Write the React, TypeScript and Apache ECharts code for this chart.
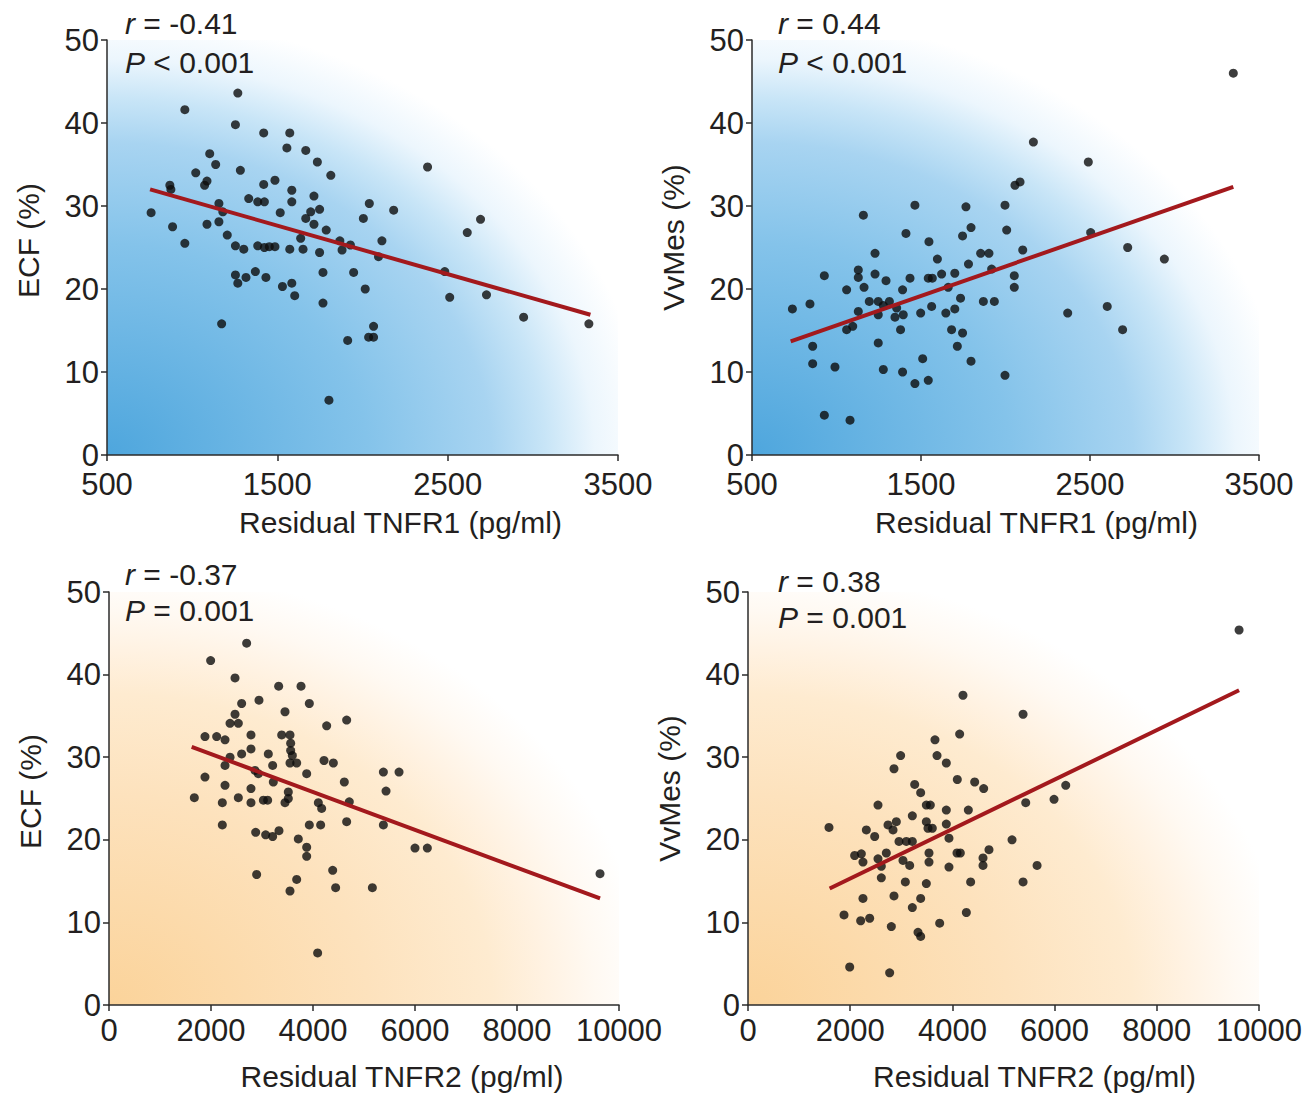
import React, { useEffect, useRef } from "react";
import * as echarts from "echarts";

// ---------- data ----------
const ecfVsTnfr1: [number, number][] = [
  [759,29.2],[957,41.6],[1268,43.6],[1254,39.8],[1420,38.8],[1573,38.8],[1556,37.0],[1667,36.7],[1735,35.3],[1103,36.3],
  [1138,35.0],[1283,34.3],[1021,34.0],[869,32.5],[875,32.0],[1073,32.5],[1087,33.0],[1420,32.6],[1486,33.1],[1585,31.9],
  [1585,30.5],[1332,30.9],[1385,30.5],[1424,30.5],[1715,31.2],[1814,33.7],[1157,30.3],[1180,29.3],[1517,29.2],[1696,29.3],
  [1748,29.6],[1667,28.5],[1715,27.8],[1787,27.1],[1087,27.8],[1157,28.1],[885,27.5],[957,25.5],[1206,26.5],[1254,25.2],
  [1303,24.8],[1385,25.2],[1424,25.0],[1453,25.1],[1486,25.1],[1573,24.8],[1637,26.1],[1651,24.8],[1748,24.4],[1867,25.8],
  [1880,24.7],[1929,25.3],[1254,21.7],[1268,20.7],[1316,21.4],[1371,22.1],[1433,21.4],[1530,20.3],[1585,20.7],[1602,19.2],
  [1768,22.0],[1948,22.0],[2016,20.0],[1768,18.3],[1173,15.8],[1913,13.8],[1803,6.6],[2005,28.5],[2040,30.3],[2183,29.5],
  [2382,34.7],[2114,25.8],[2094,23.9],[2615,26.8],[2693,28.4],[2483,22.1],[2512,19.0],[2728,19.3],[2065,15.5],[2036,14.2],
  [2065,14.2],[2946,16.6],[3329,15.8],
];
const vvmesVsTnfr1: [number, number][] = [
  [739,17.6],[843,18.2],[928,21.6],[859,13.1],[859,11.0],[991,10.6],[928,4.8],[1080,4.2],[1060,19.9],[1060,15.1],
  [1096,15.5],[1129,22.3],[1129,21.4],[1159,28.9],[1163,20.2],[1129,17.3],[1228,24.3],[1228,21.8],[1194,18.5],[1247,18.5],
  [1247,16.9],[1293,21.0],[1313,18.5],[1277,18.0],[1247,13.5],[1277,10.3],[1356,17.7],[1346,16.6],[1391,19.9],[1395,16.9],
  [1411,26.7],[1379,15.1],[1391,10.0],[1464,30.1],[1435,21.3],[1464,8.6],[1498,17.1],[1510,11.6],[1543,9.0],[1547,25.7],
  [1543,21.3],[1567,21.3],[1563,17.9],[1597,23.6],[1622,21.8],[1661,20.2],[1647,17.1],[1700,17.6],[1700,21.9],[1681,15.1],
  [1734,18.9],[1746,14.7],[1715,13.1],[1746,26.4],[1766,29.9],[1796,27.4],[1781,23.0],[1796,11.3],[1853,24.3],[1902,24.3],
  [1918,22.4],[1869,18.5],[1934,18.5],[1997,30.1],[2007,27.1],[1997,9.6],[3348,46.0],[2165,37.7],[2490,35.3],[2056,32.5],
  [2086,32.9],[2102,24.7],[2504,26.8],[2723,25.0],[2940,23.6],[2052,21.6],[2052,20.2],[2368,17.1],[2602,17.9],[2693,15.1],
];
const ecfVsTnfr2: [number, number][] = [
  [1673,25.1],[1882,27.6],[1882,32.5],[2111,32.5],[2275,32.1],[1993,41.7],[2699,43.8],[2471,39.6],[2601,36.5],[2471,35.2],
  [2373,34.1],[2536,34.1],[2941,36.9],[2784,32.7],[2784,31.0],[2601,30.4],[2373,30.0],[2275,29.0],[2275,26.6],[2222,24.5],
  [2222,21.8],[2536,25.1],[2784,26.2],[2784,24.5],[2863,28.4],[2928,28.0],[3027,24.8],[3111,24.8],[3124,30.4],[3209,29.0],
  [3222,27.0],[3327,38.6],[3451,35.5],[3386,32.7],[3549,32.7],[3562,31.7],[3562,30.8],[3595,30.2],[3549,29.3],[3680,29.3],
  [3516,25.8],[3516,25.0],[3451,24.5],[3765,38.6],[3928,36.5],[3876,28.0],[4268,33.8],[4216,29.6],[4399,29.3],[4105,24.5],
  [4170,23.8],[4660,34.5],[4614,27.0],[4712,24.6],[4660,22.2],[3928,21.8],[4150,21.8],[2876,20.9],[3072,20.6],[3209,20.4],
  [3333,21.1],[3712,20.1],[3876,19.1],[3876,18.0],[2895,15.8],[3680,15.2],[3549,13.8],[4386,16.3],[4444,14.2],[4091,6.3],
  [5164,14.2],[5380,28.2],[5687,28.2],[5432,25.9],[5380,21.8],[6000,19.0],[6242,19.0],[9628,15.9],
];
const vvmesVsTnfr2: [number, number][] = [
  [1585,21.5],[1879,10.9],[1990,4.6],[2205,10.2],[2381,10.5],[2250,12.9],[2087,18.1],[2218,18.3],[2250,17.3],[2316,21.2],
  [2479,20.4],[2544,24.2],[2544,17.7],[2609,16.8],[2609,15.4],[2707,18.4],[2740,21.8],[2903,22.2],[2838,21.2],[2955,19.8],
  [3098,19.8],[3216,19.8],[2857,28.6],[2987,30.2],[3033,17.5],[3164,16.9],[3079,14.9],[2857,13.2],[2805,9.5],[2772,3.9],
  [3216,22.9],[3262,26.7],[3379,25.7],[3216,11.8],[3379,12.9],[3327,8.8],[3379,8.3],[3490,14.7],[3490,24.2],[3568,24.2],
  [3490,22.2],[3522,21.4],[3607,21.4],[3542,18.4],[3542,17.3],[3659,32.1],[3699,30.2],[3881,29.3],[3751,9.9],[3881,23.6],
  [3881,21.9],[3933,20.2],[3933,16.7],[4096,27.3],[4142,32.8],[4207,37.5],[4090,18.4],[4155,18.4],[4312,23.6],[4357,14.9],
  [4273,11.2],[4436,27.0],[4612,26.2],[4599,17.8],[4599,16.9],[4716,18.8],[5167,20.0],[5383,35.2],[5435,24.5],[5989,24.9],
  [6218,26.6],[5657,16.9],[5383,14.9],[9610,45.4],
];

const fit1: [number, number][] = [[753, 32.0], [3338, 16.9]];
const fit2: [number, number][] = [[729, 13.7], [3348, 32.3]];
const fit3: [number, number][] = [[1621, 31.25], [9628, 12.9]];
const fit4: [number, number][] = [[1598, 14.1], [9610, 38.1]];

const tnfr1Ticks = [500, 1500, 2500, 3500];
const yTicks = [0, 10, 20, 30, 40, 50];

const stats = [
  { r: "-0.41", p: "< 0.001" },
  { r: "0.44", p: "< 0.001" },
  { r: "-0.37", p: "= 0.001" },
  { r: "0.38", p: "= 0.001" },
];

const FONT = "'Liberation Sans', Arial, Helvetica, sans-serif";
const FS = 30;
const FS_TICK = 31;
const TXT = "#231f20";
const AX = "#2b2b2b";

export default function App() {
  const ref = useRef<HTMLDivElement>(null);

  useEffect(() => {
    if (!ref.current) return;
    const chart = echarts.init(ref.current, undefined, { renderer: "svg" });

    const blue = () =>
      new echarts.graphic.RadialGradient(0, 1, 1.06, [
        { offset: 0, color: "#4ea6dd" },
        { offset: 0.48, color: "#84c3ea" },
        { offset: 0.71, color: "#a8d4f1" },
        { offset: 0.81, color: "#c8e5f7" },
        { offset: 0.9, color: "#ecf6fd" },
        { offset: 1, color: "#ffffff" },
      ]);
    const orange = () =>
      new echarts.graphic.RadialGradient(0, 1, 1.06, [
        { offset: 0, color: "#fbd39a" },
        { offset: 0.48, color: "#fde2bd" },
        { offset: 0.71, color: "#feebd0" },
        { offset: 0.81, color: "#fff2e2" },
        { offset: 0.9, color: "#fff9f2" },
        { offset: 1, color: "#ffffff" },
      ]);

    const grids = [
      { left: 107, top: 40, width: 511, height: 415, bg: blue() },
      { left: 752, top: 40, width: 507, height: 415, bg: blue() },
      { left: 109, top: 592, width: 510, height: 413, bg: orange() },
      { left: 748, top: 592, width: 511, height: 413, bg: orange() },
    ];

    const axisLine = { show: true, onZero: false, lineStyle: { color: AX, width: 1.5 } };
    const axisTick = { show: true, inside: false, length: 6, lineStyle: { color: AX, width: 1.5 } };
    const labelCommon = {
      color: TXT,
      fontSize: FS_TICK,
      fontFamily: FONT,
      formatter: (v: number) => String(v),
    };

    const xAxes = [0, 1, 2, 3].map((i) => {
      const top = i < 2;
      return {
        gridIndex: i,
        type: "value",
        min: top ? 500 : 0,
        max: top ? 3500 : 10000,
        ...(top ? {} : { interval: 2000 }),
        name: top ? "Residual TNFR1 (pg/ml)" : "Residual TNFR2 (pg/ml)",
        nameLocation: "middle",
        nameGap: top ? 52 : 56,
        nameTextStyle: {
          color: TXT,
          fontSize: FS,
          fontFamily: FONT,
          padding: [0, 0, 0, i % 2 === 0 ? 76 : 62],
        },
        axisLine,
        splitLine: { show: false },
        axisTick: top ? { ...axisTick, customValues: tnfr1Ticks } : axisTick,
        axisLabel: top
          ? { ...labelCommon, lineHeight: 26, margin: 16, customValues: tnfr1Ticks }
          : { ...labelCommon, lineHeight: 26, margin: 12 },
      };
    });

    const yAxes = [0, 1, 2, 3].map((i) => ({
      gridIndex: i,
      type: "value",
      min: 0,
      max: 50,
      interval: 10,
      name: i % 2 === 0 ? "ECF (%)" : "VvMes (%)",
      nameLocation: "middle",
      nameGap: 64,
      nameTextStyle: {
        color: TXT,
        fontSize: FS,
        fontFamily: FONT,
        padding: [0, 0, 0, i % 2 === 0 ? 14 : 20],
      },
      axisLine,
      axisTick,
      splitLine: { show: false },
      axisLabel: { ...labelCommon, lineHeight: 24, margin: 8, customValues: yTicks },
    }));

    const sets = [ecfVsTnfr1, vvmesVsTnfr1, ecfVsTnfr2, vvmesVsTnfr2];
    const fits = [fit1, fit2, fit3, fit4];
    const series: any[] = [];
    sets.forEach((d, i) => {
      series.push({
        type: "scatter",
        xAxisIndex: i,
        yAxisIndex: i,
        data: d,
        symbol: "circle",
        symbolSize: 9,
        itemStyle: { color: "#0d0d0d" },
        z: 3,
      });
    });
    fits.forEach((d, i) => {
      series.push({
        type: "line",
        xAxisIndex: i,
        yAxisIndex: i,
        data: d,
        symbol: "none",
        lineStyle: { color: "#a3191d", width: 4 },
        z: 4,
      });
    });

    const statPos = [
      { x: 125, y1: 23, y2: 62 },
      { x: 778, y1: 23, y2: 62 },
      { x: 125, y1: 574, y2: 610 },
      { x: 778, y1: 581, y2: 617 },
    ];
    const graphic: any[] = [];
    stats.forEach((s, i) => {
      const p = statPos[i];
      const st = {
        fill: TXT,
        fontSize: FS,
        fontFamily: FONT,
        verticalAlign: "middle",
        align: "left",
        rich: { i: { fontStyle: "italic", fontSize: FS, fontFamily: FONT, fill: TXT, color: TXT } },
      };
      graphic.push({ type: "text", x: p.x, y: p.y1, style: { ...st, text: `{i|r} = ${s.r}` }, z: 10 });
      graphic.push({ type: "text", x: p.x, y: p.y2, style: { ...st, text: `{i|P} ${s.p}` }, z: 10 });
    });

    chart.setOption({
      animation: false,
      backgroundColor: "#ffffff",
      grid: grids.map((g) => ({
        left: g.left,
        top: g.top,
        width: g.width,
        height: g.height,
        show: true,
        borderWidth: 0,
        backgroundColor: g.bg,
        containLabel: false,
      })),
      xAxis: xAxes,
      yAxis: yAxes,
      series,
      graphic,
    });

    return () => chart.dispose();
  }, []);

  return (
    <div
      ref={ref}
      style={{ position: "fixed", left: 0, top: 0, width: 1314, height: 1098, background: "#fff" }}
    />
  );
}
